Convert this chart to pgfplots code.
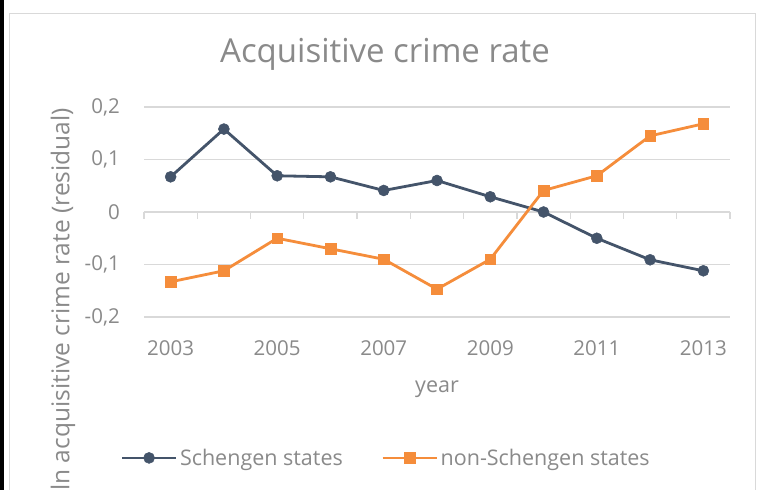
\documentclass[border=0pt]{standalone}
\usepackage{fontspec}
\setmainfont{Open Sans}
\usepackage{pgfplots}
\pgfplotsset{compat=1.18}
\definecolor{navy}{HTML}{44546A}
\definecolor{orng}{HTML}{F58D3B}
\definecolor{txt}{HTML}{8A8A8A}
\definecolor{grd}{HTML}{D9D9D9}
\begin{document}
\begin{tikzpicture}
\useasboundingbox (0bp,0bp) rectangle (763bp,490bp);
\fill[white] (0bp,0bp) rectangle (763bp,490bp);
\draw[grd, line width=1bp] (9.5bp,-5bp) -- (9.5bp,476.5bp) -- (755bp,476.5bp) -- (755bp,-5bp);
\fill[black] (0bp,0bp) rectangle (3.5bp,490bp);
\node[font=\fontsize{33bp}{38bp}\selectfont, text=txt, anchor=base] at (385bp,427bp) {Acquisitive crime rate};
\node[font=\fontsize{21.5bp}{25bp}\selectfont, text=txt, anchor=base] at (437bp,97bp) {year};
\node[rotate=90, anchor=east, font=\fontsize{24.5bp}{28bp}\selectfont, text=txt, inner sep=0pt] at (63bp,382bp) {ln acquisitive crime rate (residual)};
\begin{axis}[
  at={(144bp,173bp)}, anchor=south west,
  scale only axis, width=586bp, height=210bp,
  xmin=2002.5, xmax=2013.5, ymin=-0.2, ymax=0.2,
  axis line style={draw=none},
  xtick={2003,2005,2007,2009,2011,2013},
  xticklabels={2003,2005,2007,2009,2011,2013},
  ytick={-0.2,-0.1,0,0.1,0.2},
  yticklabels={{-0,2},{-0,1},0,{0,1},{0,2}},
  major tick length=0pt, tick style={draw=none},
  ymajorgrids, grid style={grd, line width=1.3bp},
  tick label style={font=\fontsize{20.5bp}{24bp}\selectfont, text=txt, inner sep=0pt},
  yticklabel style={anchor=east, xshift=-24bp},
  xticklabel style={anchor=center, yshift=-31bp},
  clip=false,
  legend columns=2,
  legend style={at={(-0.0401,-0.671)}, anchor=west, draw=none, fill=none, inner sep=0pt,
    font=\fontsize{21.5bp}{25bp}\selectfont, text=txt,
    nodes={inner xsep=2.5bp, inner ysep=0pt},
    /tikz/every even column/.append style={column sep=36bp}},
  legend image code/.code={\draw[mark repeat=2,mark phase=2,#1] plot coordinates {(0bp,0bp)(27bp,0bp)(54bp,0bp)};},
]
\draw[grd, line width=1.3bp] (axis cs:2002.5,0) -- (axis cs:2013.5,0);
\pgfplotsinvokeforeach{2002.5,2003.5,2004.5,2005.5,2006.5,2007.5,2008.5,2009.5,2010.5,2011.5,2012.5,2013.5}{
  \draw[grd, line width=1.3bp] (axis cs:#1,0) -- ([yshift=-6.5bp]axis cs:#1,0);
}
\addplot[navy, line width=2.8bp, mark=*, mark size=5.5bp, mark options={solid, fill=navy, draw=navy, line width=0.5bp}]
  coordinates {(2003,0.067)(2004,0.158)(2005,0.069)(2006,0.067)(2007,0.041)(2008,0.060)(2009,0.029)(2010,0.000)(2011,-0.050)(2012,-0.091)(2013,-0.112)};
\addlegendentry{Schengen states}
\addplot[orng, line width=2.8bp, mark=square*, mark size=5.3bp, mark options={solid, fill=orng, draw=orng, line width=0.5bp}]
  coordinates {(2003,-0.133)(2004,-0.112)(2005,-0.050)(2006,-0.070)(2007,-0.090)(2008,-0.147)(2009,-0.090)(2010,0.041)(2011,0.069)(2012,0.145)(2013,0.168)};
\addlegendentry{non-Schengen states}
\end{axis}
\end{tikzpicture}
\end{document}
